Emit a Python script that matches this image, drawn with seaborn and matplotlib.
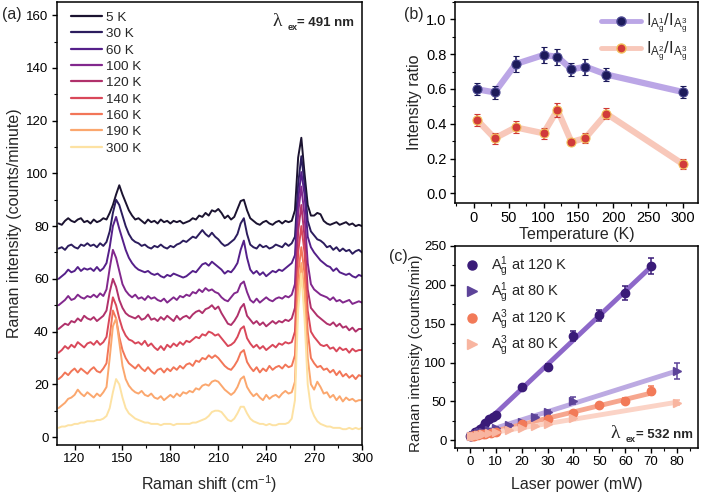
import numpy as np
import pandas as pd
import seaborn as sns
import matplotlib.pyplot as plt
from matplotlib.lines import Line2D
from matplotlib.ticker import MultipleLocator

# ---------------- (a) Raman spectra, offset per temperature ----------------
raman_shift = np.arange(110, 301, 2)
temps = ['5 K', '30 K', '60 K', '100 K', '120 K', '140 K', '160 K', '190 K', '300 K']

spec_5K = [81, 80.5, 82, 83, 82, 81.5, 82.5, 83, 81.5, 82,
           81, 82.5, 81.5, 82, 83, 82.5, 85, 88, 92, 95.5,
           92, 89, 86, 84, 82.5, 83, 82, 81, 82.5, 81.5,
           82, 81, 82.5, 81.5, 82, 81, 82, 81.5, 82, 81,
           81.5, 82, 83, 82.5, 84, 83.5, 85, 84, 86, 85.5,
           86.5, 85, 83, 84, 82.5, 83.5, 86.5, 89.5, 90, 86,
           83, 82, 81, 80.5, 81.5, 82, 81, 80.5, 81.5, 82,
           81, 82, 81.5, 82, 86, 106, 113.5, 100, 88, 84,
           84, 85, 84.5, 82, 81, 80.5, 81, 81.5, 80.5, 81,
           81.5, 80.5, 81, 80, 80.5, 80]
spec_30K = [71.5, 72, 71, 72.5, 73, 72, 71.5, 73, 72.5, 73.5,
            72.5, 73, 72, 73.5, 72.5, 74, 78, 85, 90, 88,
            84, 80, 77, 75, 74, 73.5, 72.5, 73, 72, 71.5,
            72.5, 72, 73, 72, 71.5, 72.5, 72, 73, 73.5, 74.5,
            74, 75, 76, 75.5, 77, 78.5, 77, 76, 77.5, 76,
            75, 73.5, 72.5, 73, 74, 75, 77, 81, 83, 77,
            73, 72, 71.5, 73, 72, 72.5, 71.5, 72, 73, 72.5,
            72, 73.5, 72.5, 73.5, 76, 96, 106.5, 96, 82, 78,
            76.5, 75, 74.5, 73.5, 72, 72.5, 71, 72, 70.5, 71.5,
            70.5, 71, 69.5, 70.5, 71, 70]
spec_60K = [60, 61, 62, 63.5, 62.5, 63, 64.5, 63, 64, 63.5,
            64, 63, 64.5, 63, 64, 66, 72, 80, 83.5, 79,
            75, 71, 68, 66, 64.5, 63.5, 63, 62.5, 63, 62,
            61.5, 62, 61, 60.5, 61.5, 61, 62, 61.5, 61, 60.5,
            61, 62, 63, 62.5, 64, 65.5, 66, 65, 66.5, 65.5,
            64.5, 63.5, 62, 63, 62.5, 64, 66, 71, 74.5, 68,
            63.5, 62, 63, 61.5, 62.5, 61, 62, 63, 62.5, 63.5,
            63, 64, 65, 66, 69, 90, 100.5, 92, 76, 72,
            70, 68.5, 67, 66, 65, 64.5, 63, 64, 62.5, 62,
            61.5, 62, 61, 60.5, 61.5, 61]
spec_100K = [50, 51, 52, 53.5, 52, 52.5, 54, 53, 52.5, 53.5,
             53, 54, 53, 54.5, 53.5, 56, 64, 71, 68, 63,
             58, 55.5, 54, 53, 54, 52.5, 53, 52, 53.5, 52.5,
             53, 52, 51.5, 52.5, 51, 52, 53, 52, 53.5, 53,
             54, 53.5, 55, 54.5, 56, 55, 56.5, 55.5, 56, 55,
             54.5, 53, 52, 51.5, 53, 54.5, 55, 58, 59, 55,
             52, 51, 52.5, 51, 52, 53, 52, 51.5, 52.5, 53,
             52.5, 53.5, 53, 54, 58, 85, 95, 84, 66, 58,
             56, 55, 54, 53.5, 53, 52, 53, 51.5, 52, 51,
             51.5, 52, 50.5, 51, 51.5, 51]
spec_120K = [41, 42, 43, 42.5, 44, 43.5, 45, 44, 46, 45,
             44.5, 45.5, 44, 45, 46, 48, 55, 60, 57, 52,
             49, 47, 46, 45.5, 45, 46, 44.5, 45, 46.5, 44.5,
             45, 44, 45.5, 44.5, 46, 45, 44, 46, 44.5, 45.5,
             46, 45, 46.5, 47.5, 48, 47, 48.5, 49, 50, 48.5,
             49.5, 47, 45, 43, 42.5, 44, 46, 49, 50.5, 46,
             44.5, 43, 44, 42.5, 43.5, 42, 43, 44, 43, 44,
             43.5, 44.5, 44, 45, 49, 78, 88, 76, 56, 49,
             47.5, 46, 45, 44, 43, 42.5, 43.5, 42, 43, 41.5,
             42, 40.5, 41.5, 40, 41, 41]
spec_140K = [32, 33, 34.5, 33.5, 35, 34, 36, 35, 34, 35.5,
             36, 35, 36.5, 35, 36, 38, 46, 53, 50, 45,
             41, 38.5, 37, 36.5, 35.5, 36, 35, 36.5, 34.5, 35.5,
             34, 33, 34.5, 33, 35, 34, 35.5, 34.5, 36, 35,
             36.5, 36, 37, 38, 37.5, 39, 38.5, 40, 39.5, 38.5,
             39, 37.5, 36, 34.5, 35, 36, 38, 41, 42, 37.5,
             35.5, 34, 35, 33.5, 34.5, 33, 34, 35, 34, 35.5,
             35, 36, 35.5, 36, 40, 70, 80, 70, 48, 40,
             38, 36.5, 35, 34.5, 35, 33.5, 34, 32.5, 34, 33,
             33.5, 32, 33.5, 32.5, 33, 33]
spec_160K = [22, 23, 24.5, 23.5, 25, 26, 24.5, 26, 25, 24,
             25.5, 26.5, 25, 24.5, 26, 28, 38, 48, 45, 38,
             33, 30, 28, 27, 26, 27.5, 26, 25, 26.5, 25,
             24, 25.5, 26, 24.5, 26, 25, 26.5, 25.5, 27, 26,
             27.5, 28, 27, 29, 28.5, 30, 29.5, 31, 30, 31,
             30, 28.5, 27, 26, 25.5, 27, 29, 32, 33, 28.5,
             26.5, 25, 26.5, 24.5, 26, 25, 27, 25.5, 26.5, 27,
             26, 27.5, 26.5, 27, 31, 62, 72, 62, 40, 30,
             28, 26.5, 27, 25.5, 26, 24.5, 25.5, 23.5, 25, 23,
             24, 22.5, 23.5, 22, 23.5, 23]
spec_190K = [11, 12, 13, 14.5, 15, 16, 18, 16.5, 15.5, 17,
             16, 15, 16.5, 15.5, 17, 19, 30, 42, 45, 36,
             27, 22, 19.5, 18, 17, 16.5, 17.5, 16, 15.5, 16.5,
             15, 14.5, 15.5, 14, 15, 16, 15, 16.5, 15.5, 17,
             16.5, 17.5, 17, 18.5, 18, 19.5, 20, 19.5, 21, 21.5,
             21, 19.5, 18, 17, 16, 17, 19, 22, 23, 19,
             17, 15.5, 16.5, 15, 14, 16, 14.5, 15.5, 16, 15,
             16.5, 17.5, 16.5, 17, 21, 55, 66, 55, 30, 20,
             18, 21, 19, 16.5, 17, 15, 16, 14, 15.5, 13.5,
             15, 14, 14.5, 13.5, 14, 14]
spec_300K = [3.5, 4, 4, 4.5, 4.5, 5, 5, 5.5, 5.5, 6,
             6, 6, 6.5, 6.5, 7, 8, 11, 17, 22, 20,
             15, 11, 9, 8, 7, 6.5, 6, 5.5, 5.5, 5,
             5, 5, 4.5, 5, 5, 5, 4.5, 5, 5, 5,
             5, 5, 5.5, 5.5, 6, 6.5, 7, 8, 9.5, 10,
             10, 9.5, 8, 6.5, 6, 7, 9, 11.5, 11.5, 9,
             7, 6, 5.5, 5, 5, 4.5, 5, 4.5, 4.5, 5,
             5, 5, 5.5, 7, 14, 48, 62, 45, 20, 11,
             8, 6, 5, 4.5, 4, 4, 3.5, 3.5, 3.5, 3,
             3, 3.5, 3, 3.5, 3, 3.5]
spectra = [spec_5K, spec_30K, spec_60K, spec_100K, spec_120K,
           spec_140K, spec_160K, spec_190K, spec_300K]
spec_colors = ['#1b1330', '#2c1d5e', '#55208a', '#82288d', '#b0316b',
               '#d9485a', '#f27658', '#fba76e', '#fde2a3']

# ---------------- (b) intensity ratios vs temperature ----------------
temp_b = [5, 30, 60, 100, 120, 140, 160, 190, 300]
ratio_13 = [0.598, 0.580, 0.743, 0.795, 0.785, 0.712, 0.728, 0.683, 0.582]
ratio_13_err = [0.035, 0.035, 0.045, 0.045, 0.045, 0.04, 0.045, 0.04, 0.035]
ratio_23 = [0.421, 0.316, 0.379, 0.345, 0.480, 0.295, 0.318, 0.458, 0.167]
ratio_23_err = [0.033, 0.03, 0.035, 0.03, 0.04, 0.02, 0.03, 0.033, 0.03]

# ---------------- (c) intensity vs laser power ----------------
p_a1_120 = [0.2, 0.5, 1, 1.5, 2, 2.5, 3, 4, 5, 6, 7.5, 9, 10, 20, 30, 40, 50, 60, 70]
i_a1_120 = [5, 6, 7, 8.5, 10, 11, 12.5, 14.5, 17, 22.5, 27, 30.5, 33, 68, 94, 134, 161, 189, 224]
e_a1_120 = [1, 1, 1, 1, 1, 1, 1, 1, 1, 1.5, 1.5, 2, 2, 3, 4, 6, 7, 9, 10]
p_a1_80 = [0.5, 1, 2, 3, 4, 5, 7.5, 10, 15, 20, 25, 30, 40, 80]
i_a1_80 = [6, 7, 8, 9, 10, 11, 13, 16, 19, 23, 30, 36.5, 51, 89]
e_a1_80 = [1, 1, 1, 1, 1, 1, 1, 1.5, 1.5, 2, 2, 2.5, 4, 10]
p_a3_120 = [0.5, 1, 1.5, 2, 3, 4, 5, 6, 8, 10, 20, 30, 40, 50, 60, 70]
i_a3_120 = [5, 5.5, 6, 6.5, 7, 7.5, 8, 8.5, 9.5, 11, 20.5, 27, 35, 45, 50, 64]
e_a3_120 = [1, 1, 1, 1, 1, 1, 1, 1, 1, 1, 2, 2.5, 3, 3, 4, 6]
p_a3_80 = [0.5, 1, 2, 3, 4, 5, 7.5, 10, 15, 20, 25, 30, 40, 80]
i_a3_80 = [5, 5.5, 6, 6.5, 7, 7.5, 9, 10.5, 13.5, 16, 18.5, 21.5, 28, 48.5]
e_a3_80 = [1, 1, 1, 1, 1, 1, 1, 1, 1, 1.5, 1.5, 1.5, 2, 3]

sns.set_theme(style='ticks')
plt.rcParams['font.family'] = ['Liberation Sans', 'DejaVu Sans']
plt.rcParams['mathtext.fontset'] = 'custom'
plt.rcParams['mathtext.rm'] = 'Liberation Sans'
plt.rcParams['mathtext.it'] = 'Liberation Sans:italic'
plt.rcParams['mathtext.bf'] = 'Liberation Sans:bold'
plt.rcParams['axes.linewidth'] = 1.1
for ax_ in ('xtick', 'ytick'):
    plt.rcParams[f'{ax_}.major.size'] = 3.5
    plt.rcParams[f'{ax_}.minor.size'] = 2
    plt.rcParams[f'{ax_}.major.width'] = 1.0
    plt.rcParams[f'{ax_}.minor.width'] = 0.8
    plt.rcParams[f'{ax_}.labelsize'] = 10
    plt.rcParams[f'{ax_}.color'] = 'black'
    plt.rcParams[f'{ax_}.major.pad'] = 2.5

fig = plt.figure(figsize=(7.02, 4.94), dpi=100)
ax_a = fig.add_axes([0.0812, 0.0992, 0.4345, 0.8968])
ax_b = fig.add_axes([0.648, 0.589, 0.346, 0.407])
ax_c = fig.add_axes([0.648, 0.0931, 0.346, 0.409])
for ax in (ax_a, ax_b, ax_c):
    for s in ax.spines.values():
        s.set_visible(True)
        s.set_color('black')


def lam_label(ax, x, y, nm):
    ax.text(x, y, 'λ', transform=ax.transAxes, family='Liberation Serif',
            fontsize=14, va='baseline')
    ax.annotate('ex', xy=(x, y), xycoords='axes fraction', xytext=(11, -3),
                textcoords='offset points', fontsize=6.5, fontweight='bold', va='baseline')
    ax.annotate(f'= {nm} nm', xy=(x, y), xycoords='axes fraction', xytext=(18, 0),
                textcoords='offset points', fontsize=9.5, fontweight='bold', va='baseline')


# (a)
df_a = pd.DataFrame({
    'shift': np.tile(raman_shift, len(temps)),
    'intensity': np.concatenate(spectra),
    'T': np.repeat(temps, len(raman_shift)),
})
sns.lineplot(data=df_a, x='shift', y='intensity', hue='T', hue_order=temps,
             palette=spec_colors, lw=1.4, estimator=None, sort=False,
             legend=False, ax=ax_a)
ax_a.set_xlim(109, 300)
ax_a.set_ylim(-3, 165)
ax_a.xaxis.set_major_locator(MultipleLocator(30))
ax_a.xaxis.set_minor_locator(MultipleLocator(15))
ax_a.yaxis.set_major_locator(MultipleLocator(20))
ax_a.yaxis.set_minor_locator(MultipleLocator(10))
ax_a.tick_params(labelsize=9.5)
ax_a.set_xlabel('Raman shift (cm$^{-1}$)', fontsize=11.5, labelpad=6)
ax_a.set_ylabel('Raman intensity (counts/minute)', fontsize=11.5, labelpad=3)
handles_a = [Line2D([], [], color=c, lw=1.6) for c in spec_colors]
ax_a.legend(handles_a, temps, loc='upper left', frameon=False, fontsize=9.7,
            handlelength=2.3, handletextpad=0.3, labelspacing=0.29,
            borderaxespad=0.3, bbox_to_anchor=(0.015, 1.0))
lam_label(ax_a, 0.705, 0.946, 491)

# (b)
sns.lineplot(x=temp_b, y=ratio_13, color='#bba6e6', lw=4.5, ax=ax_b)
sns.lineplot(x=temp_b, y=ratio_23, color='#f8c8ba', lw=4.5, ax=ax_b)
ax_b.errorbar(temp_b, ratio_13, yerr=ratio_13_err, fmt='o', color='#1c1a5a',
              ms=6.5, mfc='#1c1a5a', mec='#4a4790', mew=0.8, capsize=2.5,
              elinewidth=1.2, capthick=1.2, zorder=3)
ax_b.errorbar(temp_b, ratio_23, yerr=ratio_23_err, fmt='o', color='#cf3737',
              ms=6.5, mfc='#d13a3a', mec='#f3c05a', mew=0.8, capsize=2.5,
              elinewidth=1.2, capthick=1.2, zorder=3)
ax_b.set_xlim(-27, 321)
ax_b.set_ylim(-0.056, 1.1)
ax_b.xaxis.set_major_locator(MultipleLocator(50))
ax_b.xaxis.set_minor_locator(MultipleLocator(25))
ax_b.yaxis.set_major_locator(MultipleLocator(0.2))
ax_b.yaxis.set_minor_locator(MultipleLocator(0.1))
ax_b.tick_params(labelsize=10.5)
ax_b.set_xlabel('Temperature (K)', fontsize=11.5, labelpad=1)
ax_b.set_ylabel('Intensity ratio', fontsize=11.5, labelpad=3)
handles_b = [
    Line2D([], [], color='#bba6e6', lw=3.5, marker='o', ms=6.5,
           mfc='#1c1a5a', mec='#4a4790'),
    Line2D([], [], color='#f8c8ba', lw=3.5, marker='o', ms=6.5,
           mfc='#d13a3a', mec='#f3c05a'),
]
labels_b = [r'$\mathregular{I_{A_g^1}/I_{A_g^3}}$', r'$\mathregular{I_{A_g^2}/I_{A_g^3}}$']
ax_b.legend(handles_b, labels_b, loc='upper right', frameon=False, fontsize=12,
            handlelength=2.4, handletextpad=0.3, labelspacing=0.2,
            borderaxespad=0.2)

# (c)
series_c = [
    (p_a1_120, i_a1_120, e_a1_120, 'o', '#3a1b78', '#8d68c9', r'$\mathregular{A_g^1}$ at 120 K'),
    (p_a1_80, i_a1_80, e_a1_80, '>', '#5d4399', '#bcaae2', r'$\mathregular{A_g^1}$ at 80 K'),
    (p_a3_120, i_a3_120, e_a3_120, 'o', '#f27a58', '#f6a68e', r'$\mathregular{A_g^3}$ at 120 K'),
    (p_a3_80, i_a3_80, e_a3_80, '>', '#f8b5a0', '#fbd3c6', r'$\mathregular{A_g^3}$ at 80 K'),
]
for px, iy, ie, mk, mc, lc, lab in series_c:
    sns.regplot(x=np.array(px, float), y=np.array(iy, float), scatter=False,
                ci=None, truncate=True, color=lc, line_kws={'lw': 3.5}, ax=ax_c)
for px, iy, ie, mk, mc, lc, lab in series_c:
    ax_c.errorbar(px, iy, yerr=ie, fmt=mk, color=mc, ms=6, mfc=mc, mec=mc,
                  capsize=2.5, elinewidth=1.1, capthick=1.1, zorder=3)
ax_c.set_xlim(-5.8, 88)
ax_c.set_ylim(-10, 250)
ax_c.xaxis.set_major_locator(MultipleLocator(10))
ax_c.xaxis.set_minor_locator(MultipleLocator(5))
ax_c.yaxis.set_major_locator(MultipleLocator(50))
ax_c.yaxis.set_minor_locator(MultipleLocator(25))
ax_c.tick_params(labelsize=9.5)
ax_c.set_xlabel('Laser power (mW)', fontsize=11.5, labelpad=6)
ax_c.set_ylabel('Raman intensity (counts/min)', fontsize=11)
ax_c.yaxis.set_label_coords(-0.131, 0.47)
handles_c = [Line2D([], [], ls='', marker=s[3], ms=6.5, color=s[4]) for s in series_c]
ax_c.legend(handles_c, [s[6] for s in series_c], loc='upper left', frameon=False,
            fontsize=10.5, handlelength=1.2, handletextpad=0.7, labelspacing=0.12,
            borderaxespad=0.2)
lam_label(ax_c, 0.641, 0.048, 532)

fig.text(0.003, 1 - 15 / 494, '(a)', fontsize=11.5, va='center')
fig.text(404 / 702, 1 - 15 / 494, '(b)', fontsize=11.5, va='center')
fig.text(389 / 702, 1 - 256 / 494, '(c)', fontsize=11.5, va='center')

fig.savefig('out.png', dpi=100)
